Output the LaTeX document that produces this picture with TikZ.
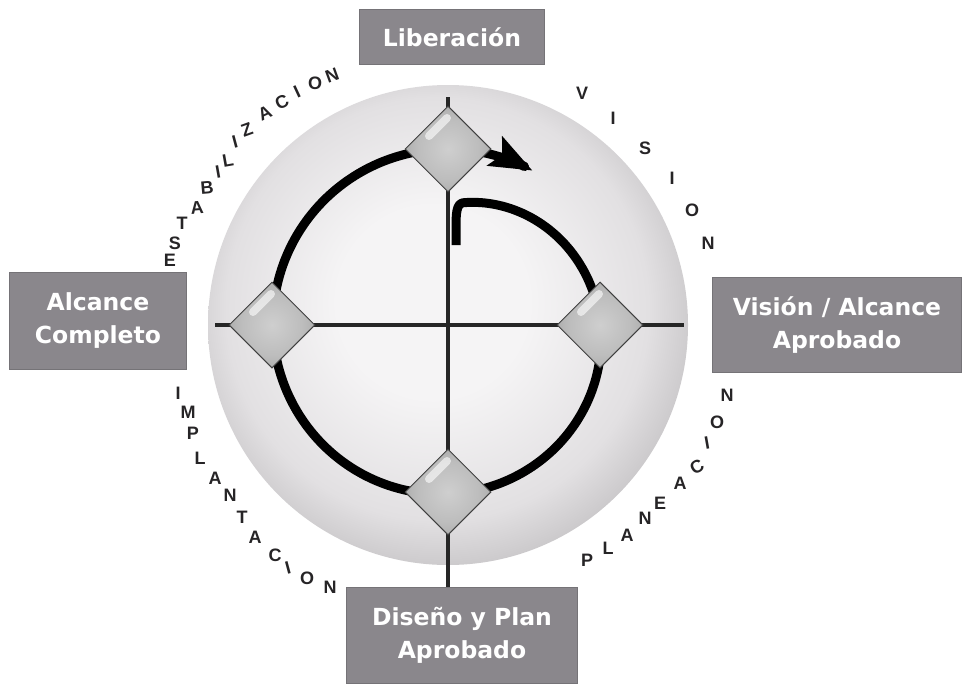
\documentclass[tikz,border=0pt]{standalone}
\usepackage{fontspec}
\setmainfont{DejaVu Sans}
\newfontfamily\lettersfont{Liberation Sans}
\usetikzlibrary{arrows.meta,shapes.geometric}

\definecolor{boxgray}{RGB}{138,135,140}
\definecolor{ballin}{RGB}{245,244,245}
\definecolor{ballmid}{RGB}{226,224,226}
\definecolor{ballout}{RGB}{197,195,197}
\definecolor{lettergray}{RGB}{38,36,38}

\pgfdeclareradialshading{globe}{\pgfpoint{-2bp}{3bp}}{color(0bp)=(ballin); color(10bp)=(ballin); color(22bp)=(ballmid); color(28bp)=(ballout); color(50bp)=(ballout)}
\pgfdeclareradialshading{gem}{\pgfpoint{0bp}{0bp}}{color(0bp)=(gray!38); color(18bp)=(gray!52); color(35bp)=(gray!78); color(50bp)=(gray!78)}

\begin{document}
\begin{tikzpicture}[x=1pt, y=-1pt, >=Stealth,
  stage/.style={fill=boxgray, draw=boxgray!85!black, text=white, font=\fontsize{23.5}{33}\selectfont\bfseries, align=center, inner sep=0pt},
  gem/.style={diamond, minimum size=86pt, inner sep=0pt, shading=gem, draw=gray!50!black, line width=1pt},
  shine/.style={white, opacity=0.6, line width=8pt, line cap=round},
  arc letter/.style={font=\lettersfont\fontsize{18}{18}\selectfont\bfseries, text=lettergray, inner sep=0pt},
  axis/.style={line width=4pt, black!85}]
\useasboundingbox (0,0) rectangle (966,686);

% sphere
\shade[shading=globe] (448,325) circle (240pt);
\coordinate (O) at (448,325);

% stage boxes
\node[stage, minimum width=185pt, minimum height=55pt] (lib) at (452,37) {Liberación};
\node[stage, minimum width=249pt, minimum height=95pt] (vis) at (837,325) {Visión / Alcance\\Aprobado};
\node[stage, minimum width=177pt, minimum height=97pt] (alc) at (98,321) {Alcance\\Completo};
\node[stage, minimum width=231pt, minimum height=96pt] (dis) at (462,635) {Diseño y Plan\\Aprobado};

% axes
\coordinate (top) at (448,97);
\coordinate (left) at (215,325);
\coordinate (right) at (684,325);
\draw[axis] (top) -- (top |- dis.north);
\draw[axis] (left) -- (right);

% spiral, radius grows from 120 to 176
\begin{scope}[shift={(O)}]
\draw[line width=9pt, line join=round, -{Stealth[length=42pt,width=32pt,inset=8pt]}]
  (8,-80) -- (8,-100) .. controls (8,-117) and (10,-122.4) .. (-82:123.65)
  -- plot[domain=-82:298.7, samples=90, smooth] (\x:{176-56*(1-(\x+90)/360)^3});
\end{scope}

% milestones
\node[gem] (gtop) at (448,149) {};
\node[gem] (gright) at (600,325) {};
\node[gem] (gbot) at (448,492) {};
\node[gem] (gleft) at (272,325) {};
\foreach \g in {gtop,gright,gbot,gleft}
  \draw[shine] ([shift={(-19,-13)}]\g.center) -- ++(18,-18);

% phase names around the sphere
\foreach \ch/\x/\y/\r [count=\i] in {E/170/260/0, S/175/243/0, T/182/223/0, A/197/208/5, B/207/188/5,
  I/218/172/10, L/228/160/10, I/235/142/15, Z/247/130/20, A/265/113/25, C/282/102/25,
  I/297/92/25, O/315/83/0, N/332/75/20}
  \node[arc letter, rotate=\r] (est\i) at (\x,\y) {\ch};
\foreach \ch/\x/\y [count=\i] in {V/582/93, I/613/118, S/645/148, I/672/178, O/692/210, N/708/243}
  \node[arc letter] (vi\i) at (\x,\y) {\ch};
\foreach \ch/\x/\y/\r [count=\i] in {P/587/560/0, L/608/548/0, A/627/535/0, N/645/518/0, E/660/503/0,
  A/680/483/0, C/697/467/30, I/707/443/10, O/717/422/0, N/727/395/0}
  \node[arc letter, rotate=\r] (pl\i) at (\x,\y) {\ch};
\foreach \ch/\x/\y/\r [count=\i] in {I/178/393/0, M/188/412/0, P/193/433/0, L/200/458/0, A/215/478/0,
  N/230/495/0, T/242/517/0, A/255/537/0, C/275/555/0, I/288/568/15, O/307/578/0, N/330/587/0}
  \node[arc letter, rotate=\r] (im\i) at (\x,\y) {\ch};
\end{tikzpicture}
\end{document}
